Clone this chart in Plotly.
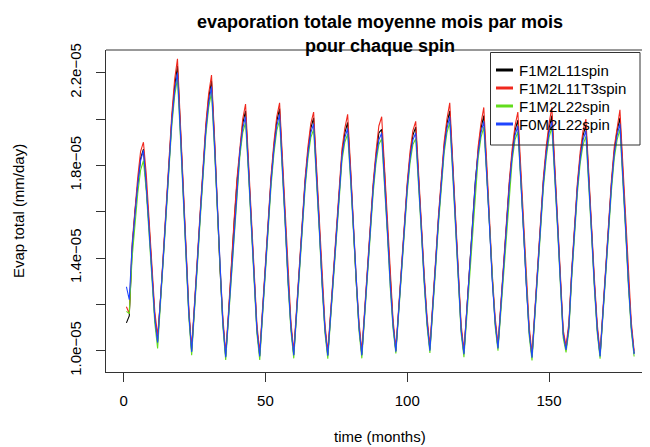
import plotly.graph_objects as go

# ---------------- data (values in units of 1e-5 mm/day) ----------------
months = list(range(1, 181))
series_names = ["F1M2L11spin", "F1M2L11T3spin", "F1M2L22spin", "F0M2L22spin"]
unit = 1e-5

f1m2l11spin = [
    1.12, 1.15, 1.43, 1.60, 1.72, 1.83, 1.87, 1.72, 1.54, 1.34, 1.145, 1.04,
    1.205, 1.405, 1.605, 1.81, 2.00, 2.14, 2.23, 1.97, 1.69, 1.41, 1.165, 0.998,
    1.175, 1.385, 1.585, 1.78, 1.96, 2.09, 2.165, 1.92, 1.63, 1.35, 1.125, 0.975,
    1.155, 1.365, 1.555, 1.73, 1.87, 1.98, 2.035, 1.81, 1.55, 1.30, 1.095, 0.978,
    1.165, 1.375, 1.565, 1.74, 1.88, 1.99, 2.045, 1.82, 1.56, 1.31, 1.105, 0.983,
    1.165, 1.365, 1.555, 1.73, 1.86, 1.96, 2.005, 1.79, 1.54, 1.30, 1.095, 0.981,
    1.155, 1.355, 1.545, 1.72, 1.85, 1.94, 1.985, 1.78, 1.53, 1.30, 1.105, 0.983,
    1.165, 1.355, 1.535, 1.71, 1.84, 1.94, 1.955, 1.77, 1.53, 1.30, 1.115, 0.999,
    1.175, 1.365, 1.545, 1.71, 1.84, 1.93, 1.965, 1.77, 1.53, 1.31, 1.125, 1.005,
    1.175, 1.375, 1.565, 1.74, 1.88, 1.98, 2.035, 1.81, 1.55, 1.30, 1.095, 0.988,
    1.165, 1.365, 1.555, 1.73, 1.86, 1.96, 2.015, 1.80, 1.55, 1.31, 1.125, 1.013,
    1.185, 1.375, 1.555, 1.72, 1.85, 1.95, 1.995, 1.78, 1.53, 1.29, 1.085, 0.973,
    1.155, 1.365, 1.555, 1.73, 1.86, 1.96, 2.015, 1.80, 1.55, 1.31, 1.075, 1.006,
    1.105, 1.335, 1.535, 1.71, 1.84, 1.93, 1.975, 1.77, 1.52, 1.29, 1.095, 0.978,
    1.165, 1.365, 1.555, 1.72, 1.86, 1.95, 2.005, 1.79, 1.54, 1.30, 1.105, 0.988,
]

f1m2l11t3spin = [
    1.19, 1.16, 1.46, 1.62, 1.75, 1.86, 1.90, 1.76, 1.56, 1.36, 1.17, 1.065,
    1.22, 1.42, 1.62, 1.83, 2.02, 2.17, 2.26, 1.99, 1.71, 1.43, 1.185, 1.01,
    1.19, 1.40, 1.60, 1.795, 1.98, 2.11, 2.19, 1.94, 1.65, 1.37, 1.145, 0.988,
    1.17, 1.38, 1.57, 1.745, 1.89, 2.00, 2.065, 1.83, 1.57, 1.32, 1.115, 0.993,
    1.18, 1.39, 1.58, 1.755, 1.90, 2.01, 2.07, 1.84, 1.58, 1.33, 1.125, 0.996,
    1.18, 1.38, 1.57, 1.745, 1.88, 1.98, 2.03, 1.81, 1.56, 1.32, 1.115, 0.995,
    1.17, 1.37, 1.56, 1.735, 1.87, 1.96, 2.02, 1.80, 1.55, 1.32, 1.125, 0.997,
    1.18, 1.37, 1.55, 1.725, 1.86, 1.97, 2.01, 1.79, 1.55, 1.32, 1.135, 1.008,
    1.19, 1.38, 1.56, 1.725, 1.86, 1.95, 1.99, 1.79, 1.55, 1.33, 1.145, 1.02,
    1.19, 1.39, 1.58, 1.755, 1.90, 2.00, 2.07, 1.83, 1.57, 1.32, 1.115, 1.002,
    1.18, 1.38, 1.57, 1.745, 1.88, 1.98, 2.05, 1.82, 1.57, 1.33, 1.145, 1.025,
    1.20, 1.39, 1.57, 1.735, 1.87, 1.97, 2.03, 1.80, 1.55, 1.31, 1.105, 0.986,
    1.17, 1.38, 1.57, 1.745, 1.88, 1.98, 2.05, 1.82, 1.57, 1.33, 1.09, 1.02,
    1.12, 1.35, 1.55, 1.725, 1.86, 1.95, 2.00, 1.79, 1.54, 1.31, 1.115, 0.99,
    1.18, 1.38, 1.57, 1.735, 1.88, 1.97, 2.04, 1.81, 1.56, 1.32, 1.125, 1.00,
]

f1m2l22spin = [
    1.17, 1.16, 1.40, 1.56, 1.68, 1.78, 1.82, 1.69, 1.515, 1.315, 1.12, 1.01,
    1.185, 1.38, 1.58, 1.78, 1.97, 2.10, 2.175, 1.93, 1.665, 1.385, 1.145, 0.98,
    1.155, 1.36, 1.56, 1.75, 1.93, 2.05, 2.115, 1.88, 1.605, 1.325, 1.105, 0.96,
    1.135, 1.34, 1.53, 1.70, 1.84, 1.94, 1.985, 1.77, 1.525, 1.275, 1.075, 0.96,
    1.145, 1.35, 1.54, 1.71, 1.85, 1.95, 1.995, 1.78, 1.535, 1.285, 1.085, 0.967,
    1.145, 1.34, 1.53, 1.70, 1.83, 1.92, 1.955, 1.75, 1.515, 1.275, 1.075, 0.965,
    1.135, 1.33, 1.52, 1.69, 1.82, 1.90, 1.935, 1.74, 1.505, 1.275, 1.085, 0.967,
    1.145, 1.33, 1.51, 1.68, 1.81, 1.89, 1.915, 1.73, 1.505, 1.275, 1.095, 0.988,
    1.155, 1.34, 1.52, 1.68, 1.81, 1.89, 1.915, 1.73, 1.505, 1.285, 1.105, 0.99,
    1.155, 1.35, 1.54, 1.71, 1.85, 1.94, 1.985, 1.77, 1.525, 1.275, 1.075, 0.972,
    1.145, 1.34, 1.53, 1.70, 1.83, 1.92, 1.965, 1.76, 1.525, 1.285, 1.105, 1.00,
    1.165, 1.35, 1.53, 1.69, 1.82, 1.91, 1.945, 1.74, 1.505, 1.265, 1.065, 0.958,
    1.135, 1.34, 1.53, 1.70, 1.83, 1.92, 1.965, 1.76, 1.525, 1.285, 1.055, 0.993,
    1.085, 1.31, 1.51, 1.68, 1.81, 1.89, 1.925, 1.73, 1.495, 1.265, 1.075, 0.965,
    1.145, 1.34, 1.53, 1.69, 1.83, 1.91, 1.955, 1.75, 1.515, 1.275, 1.085, 0.975,
]

f0m2l22spin = [
    1.276, 1.22, 1.45, 1.60, 1.72, 1.82, 1.865, 1.71, 1.53, 1.33, 1.14, 1.035,
    1.20, 1.40, 1.60, 1.80, 1.99, 2.12, 2.20, 1.95, 1.68, 1.40, 1.16, 0.995,
    1.17, 1.38, 1.58, 1.77, 1.95, 2.07, 2.14, 1.90, 1.62, 1.34, 1.12, 0.972,
    1.15, 1.36, 1.55, 1.72, 1.86, 1.96, 2.01, 1.79, 1.54, 1.29, 1.09, 0.975,
    1.16, 1.37, 1.56, 1.73, 1.87, 1.97, 2.02, 1.80, 1.55, 1.30, 1.10, 0.98,
    1.16, 1.36, 1.55, 1.72, 1.85, 1.94, 1.98, 1.77, 1.53, 1.29, 1.09, 0.978,
    1.15, 1.35, 1.54, 1.71, 1.84, 1.92, 1.96, 1.76, 1.52, 1.29, 1.10, 0.98,
    1.16, 1.35, 1.53, 1.70, 1.83, 1.91, 1.94, 1.75, 1.52, 1.29, 1.11, 0.996,
    1.17, 1.36, 1.54, 1.70, 1.83, 1.91, 1.94, 1.75, 1.52, 1.30, 1.12, 1.00,
    1.17, 1.37, 1.56, 1.73, 1.87, 1.96, 2.01, 1.79, 1.54, 1.29, 1.09, 0.985,
    1.16, 1.36, 1.55, 1.72, 1.85, 1.94, 1.99, 1.78, 1.54, 1.30, 1.12, 1.01,
    1.18, 1.37, 1.55, 1.71, 1.84, 1.93, 1.97, 1.76, 1.52, 1.28, 1.08, 0.97,
    1.15, 1.36, 1.55, 1.72, 1.85, 1.94, 1.99, 1.78, 1.54, 1.30, 1.07, 1.003,
    1.10, 1.33, 1.53, 1.70, 1.83, 1.91, 1.95, 1.75, 1.51, 1.28, 1.09, 0.975,
    1.16, 1.36, 1.55, 1.71, 1.85, 1.93, 1.98, 1.77, 1.53, 1.29, 1.10, 0.985,
]

x_tick_vals = [0, 50, 100, 150]
y_tick_vals = [1.0e-5, 1.2e-5, 1.4e-5, 1.6e-5, 1.8e-5, 2.0e-5, 2.2e-5]
y_tick_text = ["1.0e\u221205", "", "1.4e\u221205", "", "1.8e\u221205", "", "2.2e\u221205"]

title_lines = ["evaporation totale moyenne mois par mois", "pour chaque spin"]
x_title = "time (months)"
y_title = "Evap total (mm/day)"

# ---------------- styling ----------------
colors = ["#000000", "#f0281e", "#62dc1c", "#1f45ff"]
FONT = "Liberation Sans, Arial, Helvetica, sans-serif"
OFF = 8                      # page body margin of the browser
W, H = 650 - OFF, 447 - OFF  # figure size so the page fits the window
# plot area in window pixels: x 106..650, y 50..372
L, T = 106 - OFF, 50 - OFF
R = 0
B = H - (372 - OFF)
PW, PH = W - L - R, H - T - B
AX = "#333333"


def px(xw):
    """window pixel x -> paper coordinate"""
    return (xw - OFF - L) / PW


def py(yw):
    """window pixel y -> paper coordinate"""
    return (H - B - (yw - OFF)) / PH


all_series = [f1m2l11spin, f1m2l11t3spin, f1m2l22spin, f0m2l22spin]

fig = go.Figure()
for name, vals, col in zip(series_names, all_series, colors):
    fig.add_trace(go.Scatter(
        x=months, y=[v * unit for v in vals], mode="lines", name=name,
        line=dict(color=col, width=1.1), showlegend=False,
    ))

shapes = [
    dict(type="line", xref="paper", yref="paper", x0=0, x1=1, y0=1, y1=1,
         line=dict(color=AX, width=1)),
    dict(type="rect", xref="paper", yref="paper",
         x0=px(490.5), x1=px(640), y0=py(145), y1=py(52.5),
         line=dict(color=AX, width=1), fillcolor="rgba(0,0,0,0)"),
]
annotations = []
row_y = [70, 88, 106, 124]
for name, col, ry in zip(series_names, colors, row_y):
    shapes.append(dict(type="line", xref="paper", yref="paper",
                       x0=px(496), x1=px(513), y0=py(ry), y1=py(ry),
                       line=dict(color=col, width=3)))
    annotations.append(dict(text=name, xref="paper", yref="paper",
                            x=px(517), y=py(ry), xanchor="left", yanchor="middle",
                            showarrow=False, font=dict(family=FONT, size=15, color="black")))

for line_text, ty in zip(title_lines, [22, 46]):
    annotations.append(dict(text="<b>" + line_text + "</b>", xref="paper", yref="paper",
                            x=px(380), y=py(ty), xanchor="center", yanchor="middle",
                            showarrow=False, font=dict(family=FONT, size=18, color="black")))

annotations.append(dict(text=x_title, xref="paper", yref="paper", x=px(380), y=py(437),
                        xanchor="center", yanchor="middle", showarrow=False,
                        font=dict(family=FONT, size=15, color="black")))
annotations.append(dict(text=y_title, xref="paper", yref="paper", x=px(18), y=py(211),
                        xanchor="center", yanchor="middle", showarrow=False, textangle=-90,
                        font=dict(family=FONT, size=15, color="black")))

fig.update_layout(
    width=W, height=H, autosize=False,
    margin=dict(l=L, r=R, t=T, b=B, pad=0),
    paper_bgcolor="white", plot_bgcolor="white",
    showlegend=False,
    shapes=shapes, annotations=annotations,
    font=dict(family=FONT, size=15, color="black"),
    xaxis=dict(range=[-6.2, 185.6], tickmode="array", tickvals=x_tick_vals,
               ticks="outside", ticklen=9, tickwidth=1, tickcolor=AX,
               showline=True, linecolor=AX, linewidth=1, mirror=False,
               showgrid=False, zeroline=False, ticklabelstandoff=6,
               tickfont=dict(family=FONT, size=15, color="black")),
    yaxis=dict(range=[0.908e-5, 2.298e-5], tickmode="array", tickvals=y_tick_vals,
               ticktext=y_tick_text, tickangle=-90,
               ticks="outside", ticklen=9, tickwidth=1, tickcolor=AX,
               showline=True, linecolor=AX, linewidth=1, mirror=False,
               showgrid=False, zeroline=False, ticklabelstandoff=9,
               tickfont=dict(family=FONT, size=15, color="black")),
)

fig.write_html("out.html")
